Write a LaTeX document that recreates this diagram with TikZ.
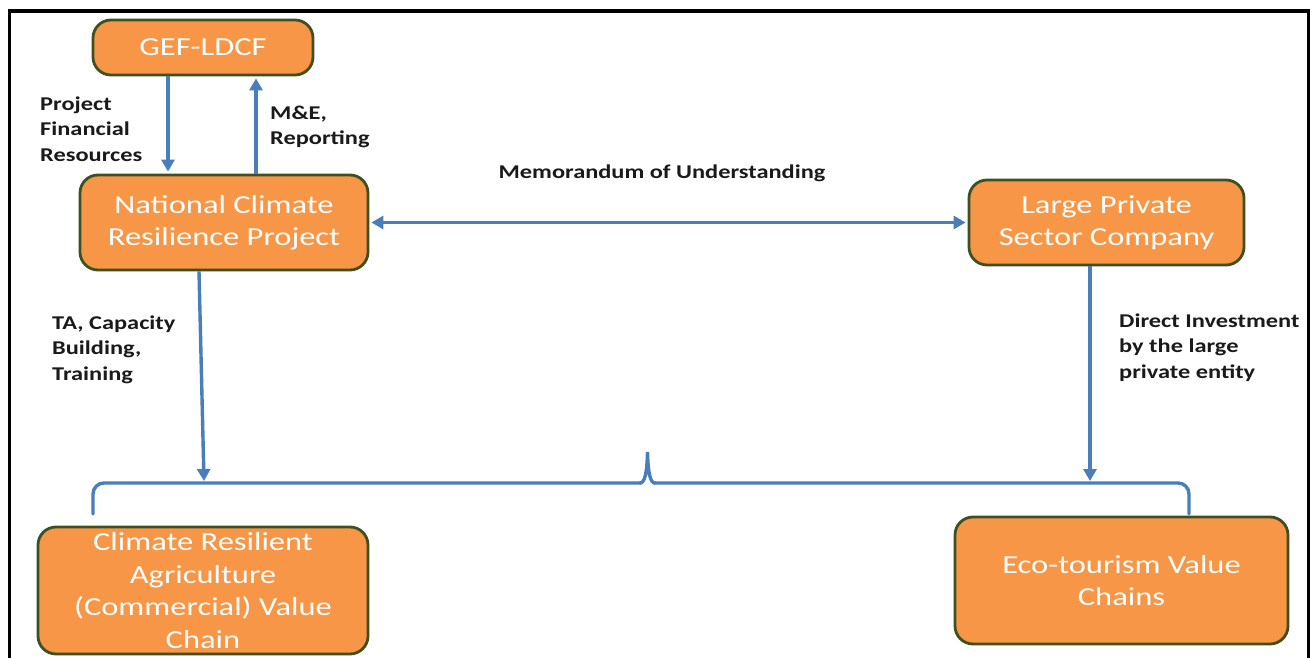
\documentclass[tikz,border=0pt]{standalone}
\usepackage{fontspec}
\setmainfont{Carlito}[FakeStretch=1.25]
\usetikzlibrary{arrows.meta}
\definecolor{boxfill}{RGB}{247,150,70}
\definecolor{boxedge}{RGB}{62,80,32}
\definecolor{flow}{RGB}{74,126,187}
\definecolor{labeltext}{RGB}{26,26,26}
\begin{document}
\begin{tikzpicture}[x=1pt,y=-1pt,
  box/.style={draw=boxedge, fill=boxfill, line width=2.8pt, rounded corners=18pt,
    text=white, align=center, font=\fontsize{26}{32.5}\selectfont, inner sep=0pt},
  lbl/.style={text=labeltext, align=left, font=\bfseries\fontsize{19.5}{25.5}\selectfont,
    inner sep=0pt, anchor=base west},
  arr/.style={draw=flow, line width=3.4pt, -{Triangle[length=12pt,width=13pt]}},
  dblarr/.style={draw=flow, line width=3.4pt, {Triangle[length=12pt,width=13pt]}-{Triangle[length=12pt,width=13pt]}},
  brace/.style={draw=flow, line width=3.4pt, line cap=round},
  frameline/.style={draw=black, line width=3.5pt}
]
\useasboundingbox (0,0) rectangle (1314,658);
\fill[white] (0,0) rectangle (1314,658);

% outer frame (open at the bottom)
\draw[frameline] (9.5,658) -- (9.5,11) -- (1308.5,11) -- (1308.5,658);

% boxes
\node[box, minimum width=220pt, minimum height=55pt] (gef) at (203,47.5) {GEF-LDCF};
\node[box, minimum width=288pt, minimum height=95pt] (ncrp) at (224,222.5) {National Climate\\Resilience Project};
\node[box, minimum width=275pt, minimum height=85pt] (lpsc) at (1106.5,222.5) {Large Private\\Sector Company};
\node[box, minimum width=330pt, minimum height=127pt] (cra) at (203,590.5) {Climate Resilient\\Agriculture\\(Commercial) Value\\Chain};
\node[box, minimum width=333pt, minimum height=127pt] (eco) at (1121.5,580.5) {Eco-tourism Value\\Chains};

% brace joining the two value chains
\coordinate (bl) at (204,481);
\coordinate (br) at (1090,481);
\draw[brace, rounded corners=11pt] (93,514) -- (93,483) -- (641,483);
\draw[brace] (640,483) .. controls (645,483) and (647,472) .. (647.5,452)
  .. controls (648,472) and (650,483) .. (655,483);
\draw[brace, rounded corners=11pt] (654,483) -- (1189,483) -- (1189,514);

% connectors
\draw[arr, shorten >=2pt] (168,0 |- gef.south) -- (168,0 |- ncrp.north);
\draw[arr, shorten >=2pt] (256,0 |- ncrp.north) -- (256,0 |- gef.south);
\draw[dblarr, shorten >=2pt, shorten <=2pt] (ncrp.east) -- (lpsc.west);
\draw[arr] (199,0 |- ncrp.south) -- (bl);
\draw[arr] (br |- lpsc.south) -- (br);

% labels (anchored at the baseline of their last line)
\node[lbl] (l1) at (40,161) {Project\\Financial\\Resources};
\node[lbl] (l2) at (270,145) {M\&E,\\Reporting};
\node[lbl, anchor=base] (l3) at (662,178) {Memorandum of Understanding};
\node[lbl] (l4) at (52,380) {TA, Capacity\\Building,\\Training};
\node[lbl] (l5) at (1119,378) {Direct Investment\\by the large\\private entity};
\end{tikzpicture}
\end{document}
